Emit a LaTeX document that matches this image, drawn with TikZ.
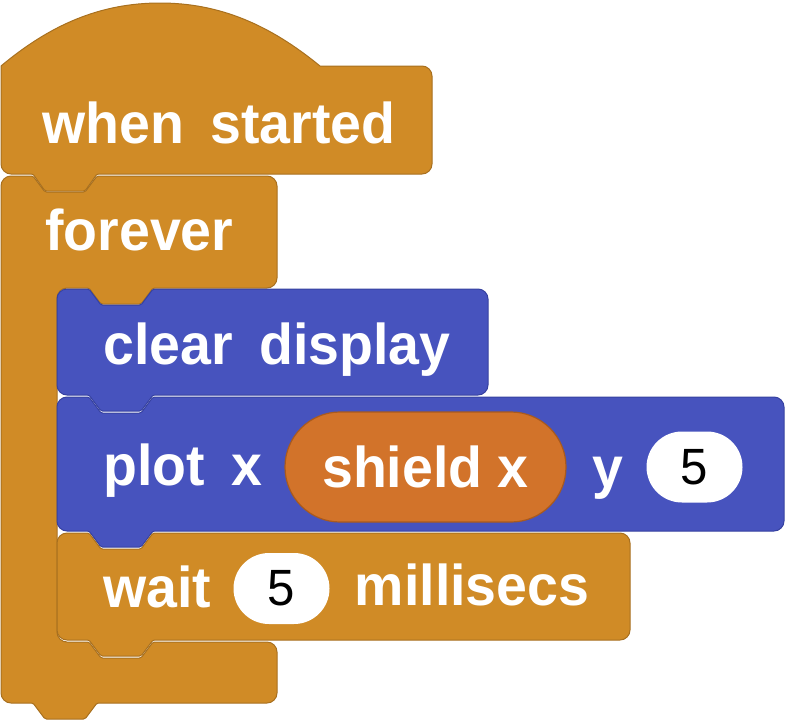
\documentclass[tikz,border=0pt]{standalone}
\usepackage{fontspec}
\setmainfont{Liberation Sans}
\newfontfamily\blockfont[FakeStretch=0.965]{Liberation Sans}
\usetikzlibrary{positioning,shapes.misc}
\definecolor{ctrlgold}{HTML}{D08B26}
\definecolor{ctrlline}{HTML}{A8701F}
\definecolor{dispblue}{HTML}{4753BE}
\definecolor{displine}{HTML}{3641A0}
\definecolor{repfill}{HTML}{D2732A}
\definecolor{repline}{HTML}{A95A1E}

\begin{document}
\begin{tikzpicture}[x=1pt,y=-1pt,
	gold block/.style={fill=ctrlgold,draw=ctrlline,line width=1pt},
	blue block/.style={fill=dispblue,draw=displine,line width=1pt},
	word/.style={inner sep=0pt,text=white,font=\blockfont\fontsize{57.5}{60}\selectfont\bfseries},
	reporter/.style={rounded rectangle,fill=repfill,draw=repline,line width=1.2pt,inner sep=0pt,
		minimum width=281pt,minimum height=110pt,text=white,font=\blockfont\fontsize{57.5}{60}\selectfont\bfseries},
	slot/.style={rounded rectangle,fill=white,inner sep=0pt,minimum width=96pt,minimum height=71pt,
		font=\blockfont\fontsize{51}{54}\selectfont}]
	\useasboundingbox (0,0) rectangle (786,720);
	%% when started
	\draw[gold block] (1,120) -- (1,66) .. controls (50,25) and (100,3) .. (160,3)
		.. controls (220,3) and (270,25) .. (320,66) [rounded corners=10pt] -- (432,66) -- (432,174)
		[rounded corners=1.5pt] -- (97,174) -- (85,191) -- (45,191) -- (33,174)
		[rounded corners=10pt] -- (1,174) -- cycle;
	%% forever
	\draw[gold block] (1,400) [rounded corners=10pt] -- (1,176)
		[rounded corners=1.5pt] -- (33,176) -- (45,192) -- (85,192) -- (97,176)
		[rounded corners=10pt] -- (277,176) -- (277,288)
		[rounded corners=1.5pt] -- (153,288) -- (141,304) -- (101,304) -- (89,288)
		[rounded corners=10pt] -- (57,288) -- (57,642)
		[rounded corners=1.5pt] -- (89,642) -- (101,658) -- (141,658) -- (153,642)
		[rounded corners=10pt] -- (277,642) -- (277,703)
		[rounded corners=1.5pt] -- (97,703) -- (85,719) -- (45,719) -- (33,703)
		[rounded corners=10pt] -- (1,703) -- cycle;
	%% clear display
	\draw[blue block] (57,340) [rounded corners=10pt] -- (57,289)
		[rounded corners=1.5pt] -- (89,289) -- (101,305) -- (141,305) -- (153,289)
		[rounded corners=10pt] -- (488,289) -- (488,395)
		[rounded corners=1.5pt] -- (153,395) -- (141,411) -- (101,411) -- (89,395)
		[rounded corners=10pt] -- (57,395) -- cycle;
	%% plot
	\draw[blue block] (57,460) [rounded corners=10pt] -- (57,397)
		[rounded corners=1.5pt] -- (89,397) -- (101,413) -- (141,413) -- (153,397)
		[rounded corners=10pt] -- (784,397) -- (784,531)
		[rounded corners=1.5pt] -- (153,531) -- (141,547) -- (101,547) -- (89,531)
		[rounded corners=10pt] -- (57,531) -- cycle;
	%% wait
	\draw[gold block] (57,580) [rounded corners=10pt] -- (57,533)
		[rounded corners=1.5pt] -- (89,533) -- (101,549) -- (141,549) -- (153,533)
		[rounded corners=10pt] -- (630,533) -- (630,640)
		[rounded corners=1.5pt] -- (153,640) -- (141,656) -- (101,656) -- (89,640)
		[rounded corners=10pt] -- (57,640) -- cycle;
	% labels
	\node[word,anchor=base west] (when) at (42,143) {when};
	\node[word,base right=26pt of when] (started) {started};
	\node[word,anchor=base west] (forever) at (45,250) {forever};
	\node[word,anchor=base west] (clear) at (103,364) {clear};
	\node[word,base right=26pt of clear] (display) {display};
	\node[word,anchor=base west] (plot) at (103,485) {plot};
	\node[word,base right=26pt of plot] (plotx) {x};
	\node[reporter] (shield) at (425.5,467) {shield x};
	\node[word,base right=26pt of shield] (ylabel) {y};
	\node[slot] (yval) at (694.5,467) {5};
	\node[word,anchor=base west] (wait) at (103,607) {wait};
	\node[slot] (msval) at (281.5,588.5) {5};
	\node[word,base right=25pt of msval] (millisecs) {millisecs};
\end{tikzpicture}
\end{document}
